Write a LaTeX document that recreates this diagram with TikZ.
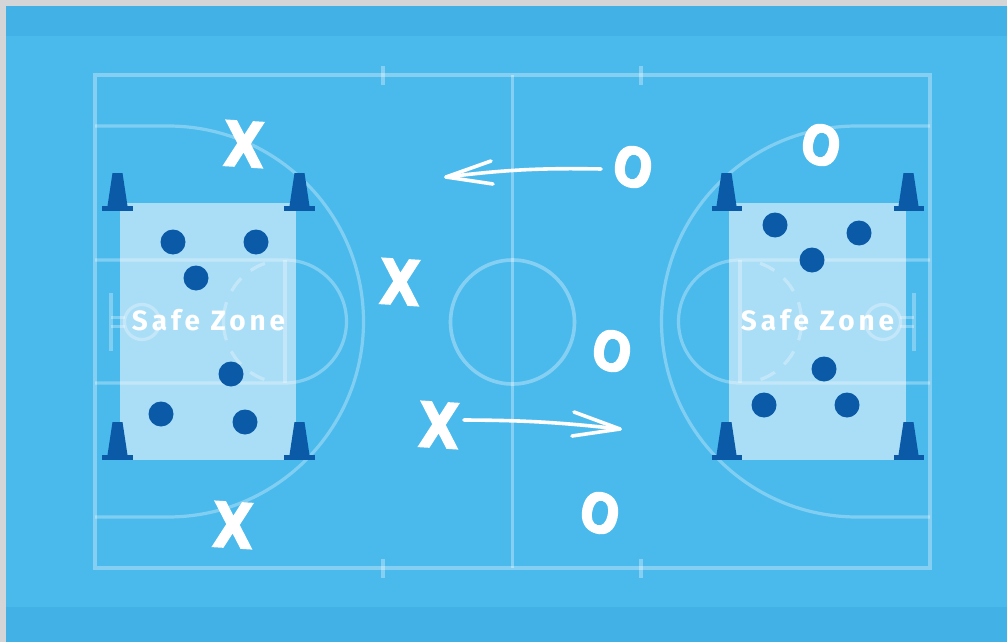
\documentclass[tikz,border=0pt]{standalone}
\usepackage{xcolor}
\usepackage{fontspec}
\usepackage{tikz}
\usetikzlibrary{arrows.meta}
\setsansfont{Fira Sans}[LetterSpace=14]
\newfontfamily\markfont{DejaVu Sans Bold}[FakeBold=2.5]
\definecolor{courtblue}{HTML}{4ABAED}
\definecolor{bandblue}{HTML}{42B2E6}
\definecolor{pagegrey}{HTML}{D4D5D6}
\definecolor{conblue}{HTML}{0A5AA8}

\begin{document}
\begin{tikzpicture}[x=1pt,y=-1pt,
  courtline/.style={draw=white,draw opacity=0.33,line width=3.6pt},
  thinline/.style={draw=white,draw opacity=0.3,line width=3.2pt},
  keydash/.style={thinline,dash pattern=on 0pt off 20.4pt on 16pt off 12.3pt on 16pt off 12.3pt on 38.6pt off 12.3pt on 16pt off 12.3pt on 16pt off 30pt},
  zonebox/.style={fill=white,fill opacity=0.53},
  conebody/.style={fill=conblue},
  dotnode/.style={circle,fill=conblue,inner sep=0pt,minimum size=25pt},
  xmark/.style={text=white,inner sep=0pt,xscale=0.85,rotate=-3,font=\markfont\fontsize{62}{62}\selectfont},
  omark/.style={text=white,inner sep=0pt,xscale=0.86,rotate=-14,font=\markfont\fontsize{54}{54}\selectfont},
  zonetext/.style={text=white,inner sep=0pt,font=\sffamily\bfseries\fontsize{28}{28}\selectfont},
  chalk/.style={draw=white,line width=3.6pt,line cap=round,line join=round}]
  \useasboundingbox (0,0) rectangle (1007,642);
  \fill[pagegrey] (0,0) rectangle (1007,642);
  \fill[courtblue] (6,6) rectangle (1007,642);
  \fill[bandblue] (6,6) rectangle (1007,36);
  \fill[bandblue] (6,607) rectangle (1007,642);
  \draw[courtline] (95,75) rectangle (930,568);
  \draw[courtline] (512.5,75) -- (512.5,568);
  \draw[courtline] (512.5,322) circle (62);
  \draw[courtline] (383,66) -- (383,85);
  \draw[courtline] (641,66) -- (641,85);
  \draw[courtline] (383,559) -- (383,578);
  \draw[courtline] (641,559) -- (641,578);
  \draw[thinline] (95,126) -- (168,126) arc[start angle=-90,end angle=90,radius=195.5] -- (95,517);
  \draw[thinline] (930,126) -- (857,126) arc[start angle=-90,end angle=-270,radius=195.5] -- (930,517);
  \draw[thinline] (95,260) -- (285,260) arc[start angle=-90,end angle=90,radius=61.5] -- (95,383);
  \draw[thinline] (930,260) -- (740,260) arc[start angle=-90,end angle=-270,radius=61.5] -- (930,383);
  \draw[thinline] (285,260) -- (285,383);
  \draw[thinline] (740,260) -- (740,383);
  \draw[keydash] (285,260) arc[start angle=-90,end angle=-270,radius=61.5];
  \draw[keydash] (740,260) arc[start angle=-90,end angle=90,radius=61.5];
  \draw[thinline] (142,322) circle (17.5);
  \draw[thinline] (883,322) circle (17.5);
  \draw[thinline] (111,293) -- (111,351);
  \draw[thinline] (914,293) -- (914,351);
  \draw[thinline] (111,317.5) -- (125,317.5);
  \draw[thinline] (111,326.5) -- (125,326.5);
  \draw[thinline] (914,317.5) -- (900,317.5);
  \draw[thinline] (914,326.5) -- (900,326.5);
  \fill[zonebox] (120,203) rectangle (296,460);
  \fill[zonebox] (729,203) rectangle (906,460);
  \fill[conebody] (112.5,173) -- (122.5,173) -- (127.5,206) -- (107.5,206) -- cycle;
  \fill[conebody] (102,206) rectangle (133,211);
  \fill[conebody] (294.5,173) -- (304.5,173) -- (309.5,206) -- (289.5,206) -- cycle;
  \fill[conebody] (284,206) rectangle (315,211);
  \fill[conebody] (112.5,422) -- (122.5,422) -- (127.5,455) -- (107.5,455) -- cycle;
  \fill[conebody] (102,455) rectangle (133,460);
  \fill[conebody] (294.5,422) -- (304.5,422) -- (309.5,455) -- (289.5,455) -- cycle;
  \fill[conebody] (284,455) rectangle (315,460);
  \fill[conebody] (721.5,173) -- (731.5,173) -- (736.5,206) -- (716.5,206) -- cycle;
  \fill[conebody] (711.5,206) rectangle (742,211);
  \fill[conebody] (903.5,173) -- (913.5,173) -- (918.5,206) -- (898.5,206) -- cycle;
  \fill[conebody] (893.5,206) rectangle (924,211);
  \fill[conebody] (721.5,422) -- (731.5,422) -- (736.5,455) -- (716.5,455) -- cycle;
  \fill[conebody] (711.5,455) rectangle (742,460);
  \fill[conebody] (903.5,422) -- (913.5,422) -- (918.5,455) -- (898.5,455) -- cycle;
  \fill[conebody] (893.5,455) rectangle (924,460);
  \node[dotnode] (l1) at (173,242) {};
  \node[dotnode] (l2) at (256,242) {};
  \node[dotnode] (l3) at (196,278) {};
  \node[dotnode] (l4) at (231,374) {};
  \node[dotnode] (l5) at (161,414) {};
  \node[dotnode] (l6) at (245,422) {};
  \node[dotnode] (r1) at (775,225) {};
  \node[dotnode] (r2) at (859,233) {};
  \node[dotnode] (r3) at (812,260) {};
  \node[dotnode] (r4) at (824,369) {};
  \node[dotnode] (r5) at (764,405) {};
  \node[dotnode] (r6) at (847,405) {};
  \node[zonetext] (zl) at (208.5,320) {Safe Zone};
  \node[zonetext] (zr) at (817.5,320) {Safe Zone};
  \node[xmark] (x1) at (244,144) {X};
  \node[xmark] (x2) at (400,282) {X};
  \node[xmark] (x3) at (439,425) {X};
  \node[xmark] (x4) at (233,525) {X};
  \node[omark] (o1) at (633,167) {O};
  \node[omark] (o2) at (612,351) {O};
  \node[omark] (o3) at (600,513) {O};
  \node[omark] (o4) at (821,145) {O};
  \coordinate (t1) at (446,177);
  \coordinate (b1) at (491,161);
  \coordinate (c1) at (493,184);
  \coordinate (t2) at (620,429);
  \coordinate (b2) at (574,412);
  \coordinate (c2) at (572,436);
  \draw[chalk] (o1) ++(-32,2) to[bend right=4] (t1);
  \draw[chalk] (b1) -- (t1) -- (c1);
  \draw[chalk] (x3) ++(25,-5) to[bend left=3] (t2);
  \draw[chalk] (b2) -- (t2) -- (c2);
\end{tikzpicture}
\end{document}
